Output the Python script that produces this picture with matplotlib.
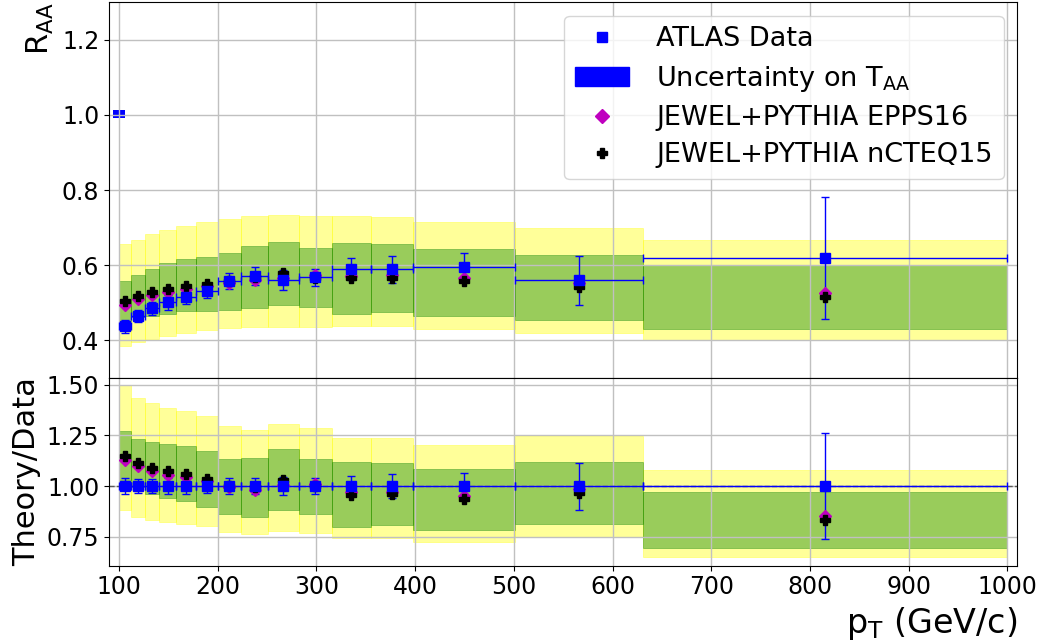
import numpy as np
import matplotlib.pyplot as plt
from matplotlib.lines import Line2D
from matplotlib.patches import Patch

# ATLAS jet pT bins (GeV/c)
edges = np.array([100, 112, 126, 141, 158, 178, 200, 224, 251, 282, 316, 355, 398, 501, 631, 1000])

raa = np.array([0.438, 0.465, 0.485, 0.501, 0.515, 0.532, 0.557, 0.571, 0.561, 0.568,
                0.590, 0.589, 0.594, 0.560, 0.619])
raa_err = np.array([0.017, 0.017, 0.017, 0.019, 0.019, 0.019, 0.021, 0.023, 0.026, 0.023,
                    0.029, 0.035, 0.039, 0.065, 0.162])

epps16 = np.array([0.495, 0.510, 0.520, 0.529, 0.537, 0.545, 0.554, 0.561, 0.565, 0.575,
                   0.572, 0.573, 0.565, 0.552, 0.527])
ncteq15 = np.array([0.504, 0.518, 0.528, 0.538, 0.546, 0.551, 0.557, 0.568, 0.579, 0.567,
                    0.565, 0.565, 0.557, 0.541, 0.515])

# theory uncertainty bands
yel_hi = np.array([0.656, 0.667, 0.683, 0.694, 0.705, 0.715, 0.723, 0.730, 0.733, 0.732,
                   0.730, 0.729, 0.715, 0.699, 0.667])
yel_lo = np.array([0.386, 0.395, 0.403, 0.412, 0.419, 0.427, 0.432, 0.436, 0.436, 0.436,
                   0.438, 0.438, 0.430, 0.420, 0.401])
grn_hi = np.array([0.558, 0.574, 0.590, 0.605, 0.616, 0.623, 0.632, 0.650, 0.663, 0.645,
                   0.660, 0.656, 0.643, 0.627, 0.601])
grn_lo = np.array([0.452, 0.462, 0.466, 0.471, 0.478, 0.477, 0.481, 0.485, 0.495, 0.490,
                   0.470, 0.475, 0.465, 0.454, 0.430])

taa_x = 100
taa_lo, taa_hi = 0.992, 1.012

centers = 0.5 * (edges[:-1] + edges[1:])
widths = edges[1:] - edges[:-1]
xerr = 0.5 * widths

fig = plt.figure(figsize=(10.43, 6.43), dpi=100)
ax1 = fig.add_axes([0.1045, 0.4121, 0.8709, 0.5848])
ax2 = fig.add_axes([0.1045, 0.1202, 0.8709, 0.2919], sharex=ax1)

fs = 17


def draw_bands(ax, ylo, yhi, glo, ghi):
    ax.bar(edges[:-1], yhi - ylo, bottom=ylo, width=widths, align='edge',
           color='yellow', alpha=0.4, edgecolor='yellow', linewidth=0.6)
    ax.bar(edges[:-1], ghi - glo, bottom=glo, width=widths, align='edge',
           color='green', alpha=0.4, edgecolor='green', linewidth=0.6)


# upper panel
draw_bands(ax1, yel_lo, yel_hi, grn_lo, grn_hi)
ax1.errorbar(centers, raa, yerr=raa_err, xerr=xerr, fmt='s', color='blue', ms=6.5,
             elinewidth=1, capsize=3)
ax1.bar(taa_x, taa_hi - taa_lo, bottom=taa_lo, width=12, color='blue')
ax1.plot(centers, epps16, 'D', color='m', ms=6, ls='none')
ax1.plot(centers, ncteq15, 'P', color='k', ms=7, ls='none')

ax1.set_ylim(0.3, 1.3)
ax1.set_xlim(90, 1010)
ax1.set_yticks([0.4, 0.6, 0.8, 1.0, 1.2])
ax1.grid(True, color='#c0c0c0', linewidth=1)
ax1.tick_params(labelsize=fs, labelbottom=False)
ax1.set_ylabel(r'R$_{\mathrm{AA}}$', fontsize=22, loc='top')

handles = [
    Line2D([], [], marker='s', color='blue', ls='none', ms=7),
    Patch(color='blue'),
    Line2D([], [], marker='D', color='m', ls='none', ms=7),
    Line2D([], [], marker='P', color='k', ls='none', ms=7),
]
labels = ['ATLAS Data', r'Uncertainty on T$_{\mathrm{AA}}$',
          'JEWEL+PYTHIA EPPS16', 'JEWEL+PYTHIA nCTEQ15']
ax1.legend(handles, labels, loc='upper right', fontsize=19.5, labelspacing=0.42,
           handletextpad=1.0)

# lower panel: ratio to data
draw_bands(ax2, yel_lo / raa, yel_hi / raa, grn_lo / raa, grn_hi / raa)
ax2.axhline(1.0, color='0.35', ls='--', lw=1)
ax2.errorbar(centers, np.ones_like(raa), yerr=raa_err / raa, xerr=xerr, fmt='s',
             color='blue', ms=6.5, elinewidth=1, capsize=3)
ax2.plot(centers, epps16 / raa, 'D', color='m', ms=6, ls='none')
ax2.plot(centers, ncteq15 / raa, 'P', color='k', ms=7, ls='none')

ax2.set_ylim(0.607, 1.533)
ax2.set_yticks([0.75, 1.0, 1.25, 1.5])
ax2.set_xticks(np.arange(100, 1001, 100))
ax2.grid(True, color='#c0c0c0', linewidth=1)
ax2.tick_params(labelsize=fs)
ax2.set_ylabel('Theory/Data', fontsize=22)
ax2.set_xlabel(r'p$_{\mathrm{T}}$ (GeV/c)', fontsize=24, loc='right')

fig.savefig('out.png', dpi=100)
